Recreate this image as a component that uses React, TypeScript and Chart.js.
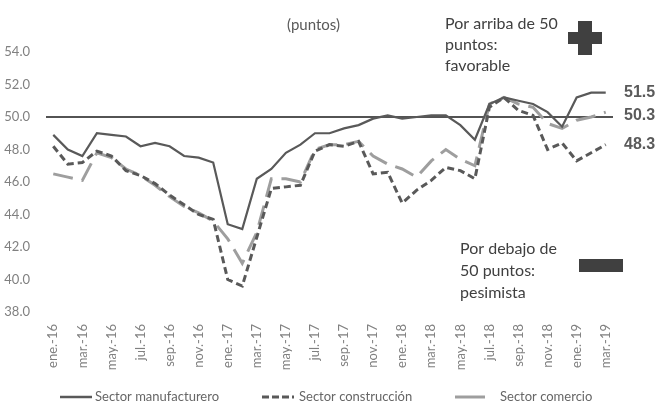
import React, { useEffect, useRef } from 'react';
import { Chart, registerables } from 'chart.js';

Chart.register(...registerables);

const months = [
  'ene.-16', 'feb.-16', 'mar.-16', 'abr.-16', 'may.-16', 'jun.-16', 'jul.-16', 'ago.-16', 'sep.-16', 'oct.-16', 'nov.-16', 'dic.-16',
  'ene.-17', 'feb.-17', 'mar.-17', 'abr.-17', 'may.-17', 'jun.-17', 'jul.-17', 'ago.-17', 'sep.-17', 'oct.-17', 'nov.-17', 'dic.-17',
  'ene.-18', 'feb.-18', 'mar.-18', 'abr.-18', 'may.-18', 'jun.-18', 'jul.-18', 'ago.-18', 'sep.-18', 'oct.-18', 'nov.-18', 'dic.-18',
  'ene.-19', 'feb.-19', 'mar.-19',
];

const manufacturero = [
  48.9, 48.0, 47.6, 49.0, 48.9, 48.8, 48.2, 48.4, 48.2, 47.6, 47.5, 47.2,
  43.4, 43.1, 46.2, 46.8, 47.8, 48.3, 49.0, 49.0, 49.3, 49.5, 49.9, 50.1,
  49.9, 50.0, 50.1, 50.1, 49.5, 48.6, 50.8, 51.2, 51.0, 50.8, 50.3, 49.4,
  51.2, 51.5, 51.5,
];

const construccion = [
  48.2, 47.1, 47.2, 47.9, 47.6, 46.7, 46.4, 45.9, 45.2, 44.6, 44.0, 43.7,
  40.0, 39.6, 42.6, 45.6, 45.7, 45.8, 47.9, 48.3, 48.2, 48.5, 46.5, 46.6,
  44.7, 45.5, 46.1, 46.9, 46.7, 46.2, 50.6, 51.2, 50.4, 50.1, 48.0, 48.4,
  47.3, 47.8, 48.3,
];

const comercio = [
  46.5, 46.3, 46.1, 47.8, 47.5, 46.8, 46.4, 45.8, 45.1, 44.5, 44.1, 43.6,
  42.5, 41.0, 42.9, 46.2, 46.2, 46.0, 48.0, 48.3, 48.3, 48.5, 47.6, 47.1,
  46.8, 46.3, 47.3, 48.0, 47.4, 47.0, 50.8, 51.2, 50.8, 50.6, 49.6, 49.3,
  49.8, 50.0, 50.3,
];

const seriesNames = ['Sector manufacturero', 'Sector construcción', 'Sector comercio'];
const yMin = 38;
const yMax = 54;
const yStep = 2;
const threshold = 50;
const unitLabel = '(puntos)';
const aboveNote = ['Por arriba de 50', 'puntos:', 'favorable'];
const belowNote = ['Por debajo de', '50 puntos:', 'pesimista'];

const FONT = "'Lato', 'Open Sans', sans-serif";
const DARK = '#595959';
const LIGHT = '#9e9e9e';

const annotations = {
  id: 'annotations',
  beforeDatasetsDraw(chart: any) {
    const { ctx, chartArea, scales } = chart;
    const y = scales.y.getPixelForValue(threshold);
    ctx.save();
    ctx.strokeStyle = '#1a1a1a';
    ctx.lineWidth = 1.3;
    ctx.beginPath();
    ctx.moveTo(chartArea.left, y);
    ctx.lineTo(chartArea.right, y);
    ctx.stroke();
    ctx.restore();
  },
  afterDraw(chart: any) {
    const { ctx, scales } = chart;
    ctx.save();
    // unit label
    ctx.fillStyle = DARK;
    ctx.font = `15px ${FONT}`;
    ctx.textBaseline = 'alphabetic';
    ctx.textAlign = 'left';
    ctx.fillText(unitLabel, 287, 30);

    // notes
    ctx.fillStyle = '#404040';
    ctx.font = `16px ${FONT}`;
    aboveNote.forEach((t, i) => ctx.fillText(t, 445, 29 + i * 21));
    belowNote.forEach((t, i) => ctx.fillText(t, 460, 254 + i * 22));

    // plus sign
    ctx.fillStyle = '#404040';
    ctx.fillRect(578, 21, 14, 34);
    ctx.fillRect(568, 32, 34, 12);
    // minus bar
    ctx.fillRect(579, 259, 44, 13);

    // end values
    const last = months.length - 1;
    ctx.font = `bold 16px 'Liberation Sans Narrow', 'Liberation Sans', sans-serif`;
    ctx.fillStyle = '#5a5a5a';
    ctx.textBaseline = 'middle';
    const endVals = [
      { v: manufacturero[last], y: scales.y.getPixelForValue(manufacturero[last]) },
      { v: comercio[last], y: scales.y.getPixelForValue(comercio[last]) + 3 },
      { v: construccion[last], y: scales.y.getPixelForValue(construccion[last]) },
    ];
    endVals.forEach((e) => ctx.fillText(e.v.toFixed(1), 624, e.y));

    // legend
    const ly = 397;
    ctx.textBaseline = 'middle';
    ctx.font = `13px ${FONT}`;
    ctx.fillStyle = '#666666';
    const items = [
      { x: 60, w: 32, color: DARK, dash: [], lw: 2.5, tx: 95 },
      { x: 262, w: 32, color: DARK, dash: [7, 3], lw: 3, tx: 299 },
      { x: 455, w: 30, color: LIGHT, dash: [], lw: 3, tx: 500 },
    ];
    items.forEach((it, i) => {
      ctx.strokeStyle = it.color;
      ctx.lineWidth = it.lw;
      ctx.setLineDash(it.dash);
      ctx.beginPath();
      ctx.moveTo(it.x, ly);
      ctx.lineTo(it.x + it.w, ly);
      ctx.stroke();
      ctx.setLineDash([]);
      ctx.fillText(seriesNames[i], it.tx, ly);
    });
    ctx.restore();
  },
};

export default function App() {
  const ref = useRef<HTMLCanvasElement>(null);
  useEffect(() => {
    if (!ref.current) return;
    const chart = new Chart(ref.current, {
      type: 'line',
      data: {
        labels: months,
        datasets: [
          {
            label: seriesNames[0],
            data: manufacturero,
            borderColor: DARK,
            borderWidth: 2.2,
            pointRadius: 0,
            tension: 0,
          },
          {
            label: seriesNames[1],
            data: construccion,
            borderColor: DARK,
            borderWidth: 3,
            borderDash: [7, 4],
            pointRadius: 0,
            tension: 0,
          },
          {
            label: seriesNames[2],
            data: comercio,
            borderColor: LIGHT,
            borderWidth: 3,
            borderDash: [20, 9],
            pointRadius: 0,
            tension: 0,
          },
        ],
      },
      options: {
        responsive: false,
        animation: false,
        devicePixelRatio: 1,
        layout: { padding: { top: 52, right: 45, bottom: 34, left: 0 } },
        plugins: {
          legend: { display: false },
          tooltip: { enabled: false },
          title: { display: false },
        },
        scales: {
          x: {
            offset: true,
            grid: { display: false },
            border: { display: false },
            afterFit: (s: any) => { s.height = 60; },
            ticks: {
              autoSkip: false,
              minRotation: 90,
              maxRotation: 90,
              padding: 4,
              color: '#808080',
              font: { family: FONT, size: 13 },
              callback: (_v: any, i: number) => (i % 2 === 0 ? months[i] : ''),
            },
          },
          y: {
            min: yMin,
            max: yMax,
            grid: { display: false },
            border: { display: false },
            afterFit: (s: any) => { s.width = 46; },
            ticks: {
              stepSize: yStep,
              padding: 8,
              color: '#808080',
              font: { family: FONT, size: 13 },
              callback: (v: any) => Number(v).toFixed(1),
            },
          },
        },
      },
      plugins: [annotations],
    });
    return () => chart.destroy();
  }, []);
  return (
    <div style={{ position: 'absolute', left: 0, top: 0, width: 658, height: 406, background: '#fff' }}>
      <canvas ref={ref} width={658} height={406} />
    </div>
  );
}
